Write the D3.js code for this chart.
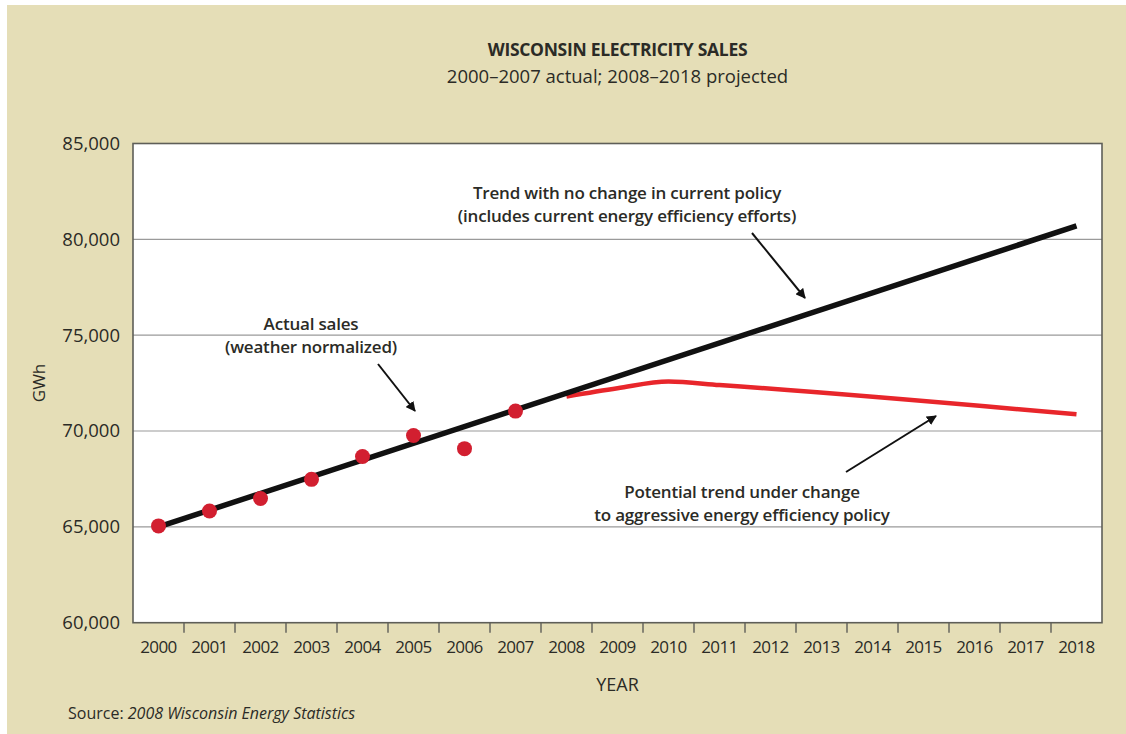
<!DOCTYPE html>
<html><head><meta charset="utf-8">
<script src="https://cdn.jsdelivr.net/npm/d3@7"></script>
<style>
html,body{margin:0;padding:0;background:#fff;}
text{font-family:"Open Sans","Noto Sans",sans-serif;fill:#2b2b26;}
</style></head>
<body><svg id="chart" width="1126" height="734"></svg>
<script>
// ---- data ----
const years = ["2000","2001","2002","2003","2004","2005","2006","2007","2008","2009","2010","2011","2012","2013","2014","2015","2016","2017","2018"];
const actualYears = ["2000","2001","2002","2003","2004","2005","2006","2007"];
const actualSales = [65050, 65830, 66480, 67480, 68670, 69770, 69080, 71040];
const trendYears = ["2000","2018"];
const trendValues = [65000, 80700];
const efficiencyYears = ["2008","2009","2010","2011","2018"];
const efficiencyValues = [71800, 72230, 72580, 72400, 70870];
const yTicks = [60000, 65000, 70000, 75000, 80000, 85000];

const svg = d3.select("#chart");
const W = 1126, H = 734;
const m = {left:133, right:1102, top:143.5, bottom:622.7};

svg.append("rect").attr("x",7).attr("y",5).attr("width",W-7).attr("height",H-5).attr("fill","#e5deb7");

const x = d3.scaleBand().domain(years).range([m.left, m.right]).padding(0);
const y = d3.scaleLinear().domain([60000, 85000]).range([m.bottom, m.top]);
const cx = d => x(d) + x.bandwidth()/2;

// plot background
svg.append("rect").attr("x",m.left).attr("y",m.top).attr("width",m.right-m.left).attr("height",m.bottom-m.top).attr("fill","#ffffff");

// gridlines
svg.append("g").selectAll("line").data(yTicks.filter(v=>v>60000 && v<85000)).join("line")
  .attr("x1",m.left).attr("x2",m.right).attr("y1",d=>y(d)).attr("y2",d=>y(d))
  .attr("stroke","#9a9a9a").attr("stroke-width",1.2);

// frame
svg.append("rect").attr("x",m.left).attr("y",m.top).attr("width",m.right-m.left).attr("height",m.bottom-m.top)
  .attr("fill","none").attr("stroke","#5e5e58").attr("stroke-width",1.6);

// y axis labels
const yAxis = d3.axisLeft(y).tickValues(yTicks).tickFormat(d3.format(",")).tickSize(0).tickPadding(13);
const ya = svg.append("g").attr("transform",`translate(${m.left},0)`).call(yAxis);
ya.select(".domain").remove();
ya.selectAll("text").attr("font-size",18.5).attr("fill","#2b2b26").style("font-family","'Open Sans',sans-serif");

// x axis: ticks on band boundaries, labels at band centers
const xa = svg.append("g").attr("transform",`translate(0,${m.bottom})`);
xa.selectAll("line").data(years.slice(1)).join("line")
  .attr("x1",d=>x(d)).attr("x2",d=>x(d)).attr("y1",0).attr("y2",10)
  .attr("stroke","#5e5e58").attr("stroke-width",1.4);
xa.selectAll("text").data(years).join("text")
  .attr("x",d=>cx(d)).attr("y",30).attr("text-anchor","middle")
  .attr("font-size",17).style("letter-spacing","-0.6px").text(d=>d);

// axis titles
svg.append("text").attr("x",(m.left+m.right)/2).attr("y",691).attr("text-anchor","middle").attr("font-size",18).text("YEAR");
svg.append("text").attr("transform","translate(45,383) rotate(-90)").attr("text-anchor","middle").attr("font-size",17).text("GWh");

// title
svg.append("text").attr("x",(m.left+m.right)/2).attr("y",56).attr("text-anchor","middle").attr("font-size",17.5).attr("font-weight",700).style("letter-spacing","-0.3px").text("WISCONSIN ELECTRICITY SALES");
svg.append("text").attr("x",(m.left+m.right)/2).attr("y",83).attr("text-anchor","middle").attr("font-size",18.5).text("2000–2007 actual; 2008–2018 projected");

// source
const src = svg.append("text").attr("x",68).attr("y",719).attr("font-size",16);
src.append("tspan").text("Source: ");
src.append("tspan").attr("font-style","italic").text("2008 Wisconsin Energy Statistics");

// lines
const line = d3.line().x(d=>cx(d[0])).y(d=>y(d[1]));
svg.append("path").datum(efficiencyYears.map((d,i)=>[d,efficiencyValues[i]]))
  .attr("d", line.curve(d3.curveMonotoneX)).attr("fill","none").attr("stroke","#e8262b").attr("stroke-width",4.5).attr("stroke-linejoin","round");
svg.append("path").datum(trendYears.map((d,i)=>[d,trendValues[i]]))
  .attr("d", line.curve(d3.curveLinear)).attr("fill","none").attr("stroke","#111").attr("stroke-width",5.5).attr("stroke-linecap","butt");

// dots
svg.append("g").selectAll("circle").data(actualYears.map((d,i)=>[d,actualSales[i]])).join("circle")
  .attr("cx",d=>cx(d[0])).attr("cy",d=>y(d[1])).attr("r",7.5).attr("fill","#d21f30");

// annotations
svg.append("defs").append("marker").attr("id","arr").attr("viewBox","0 0 10 10").attr("refX",9).attr("refY",5)
  .attr("markerWidth",5).attr("markerHeight",5).attr("markerUnits","strokeWidth").attr("orient","auto")
  .append("path").attr("d","M0,0 L10,5 L0,10 z").attr("fill","#111");

function note(lines, cxp, y0, arrow){
  const t = svg.append("text").attr("text-anchor","middle").attr("font-size",17).attr("font-weight",600).style("letter-spacing","-0.2px");
  lines.forEach((s,i)=>t.append("tspan").attr("x",cxp).attr("y",y0+i*23).text(s));
  svg.append("line").attr("x1",arrow[0]).attr("y1",arrow[1]).attr("x2",arrow[2]).attr("y2",arrow[3])
    .attr("stroke","#111").attr("stroke-width",2).attr("marker-end","url(#arr)");
}
note(["Trend with no change in current policy","(includes current energy efficiency efforts)"], 627, 199, [752,233,805,298]);
note(["Actual sales","(weather normalized)"], 311, 330, [378,364,415,411]);
note(["Potential trend under change","to aggressive energy efficiency policy"], 742, 498, [846,472,936,416]);
</script></body></html>
